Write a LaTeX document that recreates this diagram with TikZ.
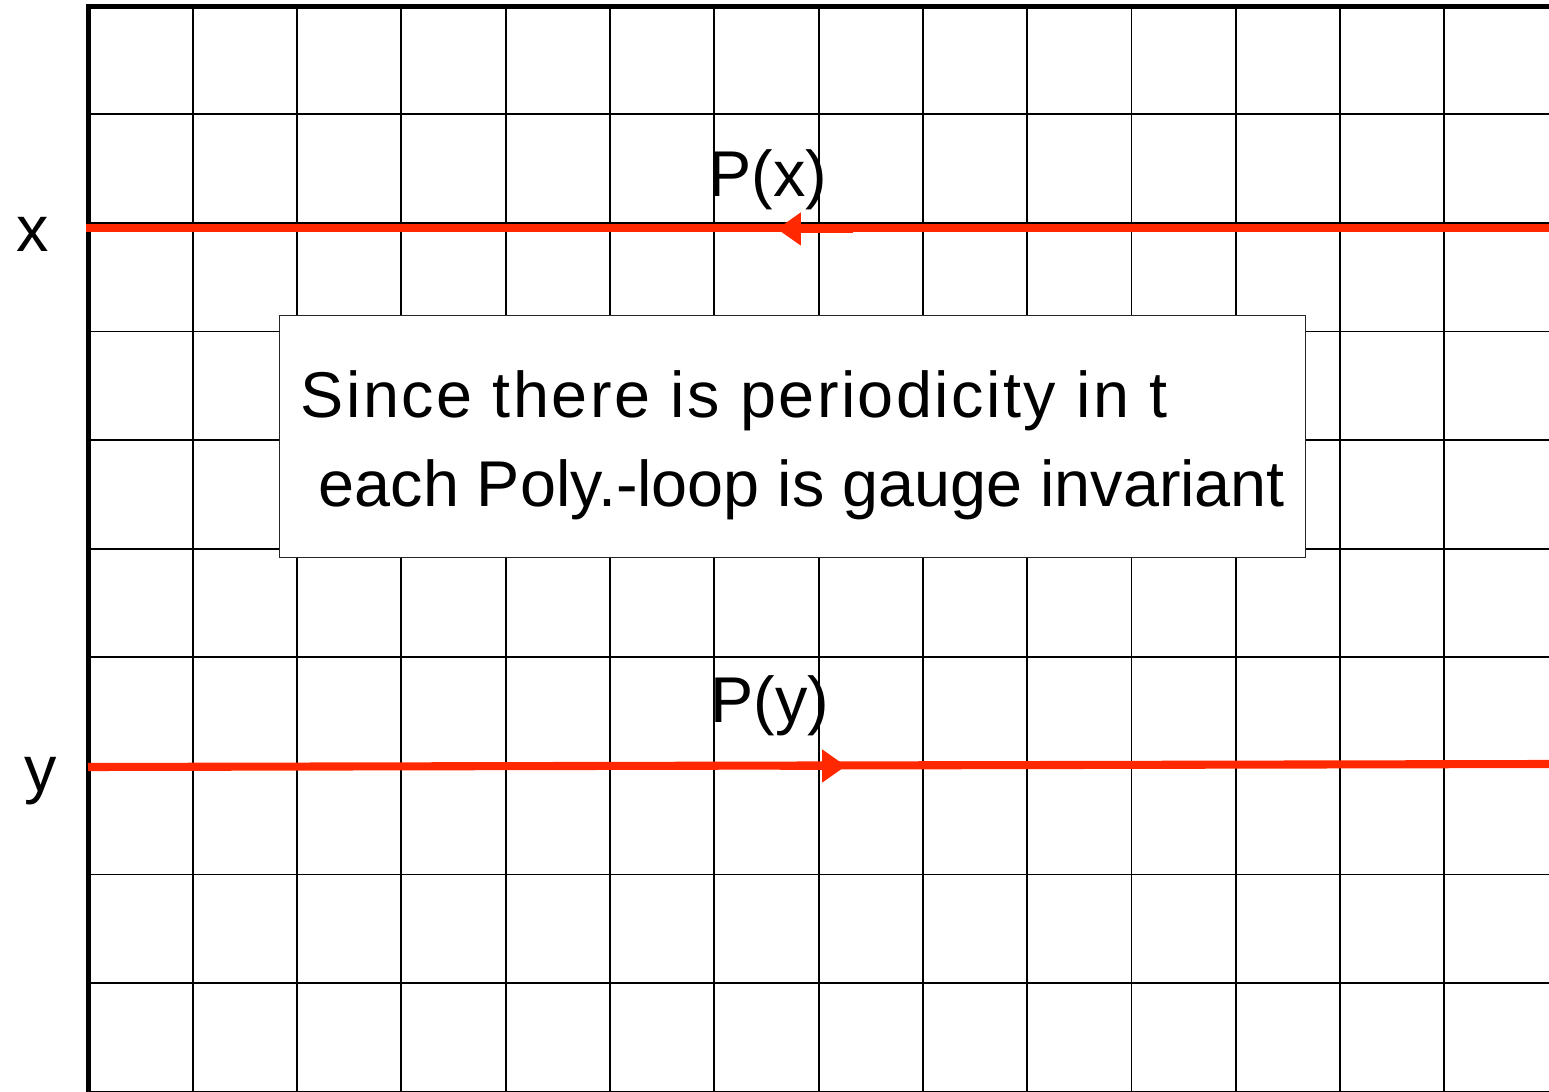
\documentclass[tikz,border=0pt]{standalone}
\usepackage{fontspec}
\setmainfont{Liberation Sans}
\usetikzlibrary{arrows.meta, positioning, calc}
\definecolor{loopred}{RGB}{255,40,0}

\begin{document}
\begin{tikzpicture}[x=0.01cm, y=-0.01cm,
    gridline/.style={black, line width=0.55pt},
    frame/.style={black, line width=1.5pt},
    loopline/.style={loopred, line width=2.3pt},
    loopmark/.style={loopred, line width=2.3pt, -{Triangle[length=6.8pt, width=9pt]}},
    lbl/.style={font=\fontsize{18.4}{22}\selectfont, inner sep=0pt, anchor=base west},
    notebox/.style={draw=black!85, line width=0.45pt, fill=white, inner sep=0pt,
        minimum width=10.25cm, minimum height=2.42cm}]
    \useasboundingbox (0,0) rectangle (1549,1092);
    % Grid
    \foreach \i in {1,...,13}
        \draw[gridline] ({88.5+104.3*\i},6) -- ({88.5+104.3*\i},1092);
    \foreach \j in {0,...,9}
        \draw[gridline] (88.5,{114.3+108.6*\j}) -- (1549,{114.3+108.6*\j});
    % Frame
    \draw[frame] (88.5,1092) -- (88.5,6.5) -- (1549,6.5);

    % Loop at x, running right to left
    \coordinate (xl) at (86,228);
    \coordinate (xr) at (1549,228);
    \coordinate (xs) at (853,229);
    \coordinate (xt) at (777,229);
    \draw[loopline] (xl) -- (xr);
    \draw[loopmark] (xs) -- (xt);

    % Loop at y, running left to right
    \coordinate (yl) at (88,767);
    \coordinate (yr) at (1549,764);
    \coordinate (ys) at (780,766);
    \coordinate (yt) at (846,766);
    \draw[loopline] (yl) -- (yr);
    \draw[loopmark] (ys) -- (yt);

    % Labels
    \node[lbl] (xlab) at (16,252) {x};
    \node[lbl] (ylab) at (24,791) {y};
    \node[lbl] (px) at (708,197) {P(x)};
    \node[lbl] (py) at (710,723) {P(y)};

    % Note
    \node[notebox] (note) at (792.5,436.5) {};
    \node[lbl] (line1) at (300,418) {\addfontfeature{LetterSpace=3.8}Since there is periodicity in t};
    \node[lbl] (line2) at (318,507) {each Poly.-loop is gauge invariant};
\end{tikzpicture}
\end{document}
